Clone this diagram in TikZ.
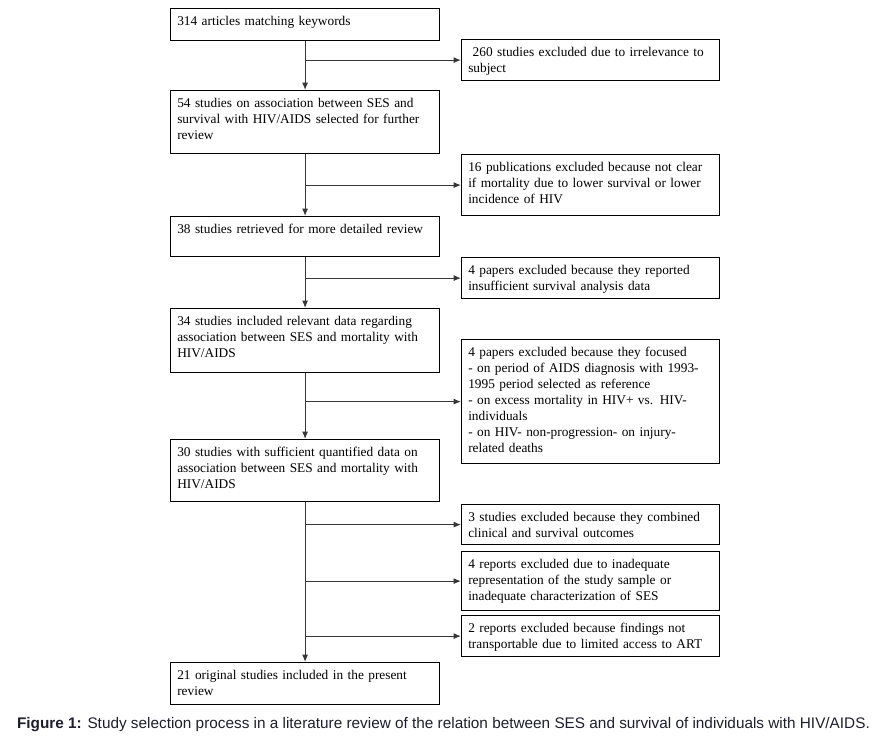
\documentclass[tikz,border=0pt]{standalone}
\usepackage{fontspec}
\setmainfont{Liberation Serif}
\newfontfamily\capfont{Liberation Sans}
\usetikzlibrary{arrows.meta}
\definecolor{captext}{RGB}{30,30,45}
\definecolor{linegray}{RGB}{55,55,55}
\tikzset{
    lbox/.style={draw,line width=0.9pt,anchor=north west,align=left,
        text width=191.75pt,inner xsep=5pt,inner ysep=4pt,
        text height=8.5pt,text depth=#1,font=\fontsize{10pt}{12pt}\selectfont},
    rbox/.style={lbox=#1,text width=183.5pt},
    flow/.style={draw=linegray,line width=0.8pt,-{Latex[length=5.5pt,width=4.5pt]}}
}
\begin{document}
\begin{tikzpicture}[x=0.75pt,y=-0.75pt]
    \useasboundingbox (0,0) rectangle (874,742);
    % main column
    \node[lbox=7.5pt]  (b1) at (170,8)   {314 articles matching keywords};
    \node[lbox=30.75pt](b2) at (170,90)  {54 studies on association between SES and\\
        survival with HIV/AIDS selected for further\\ review};
    \node[lbox=13.5pt] (b3) at (170,216) {38 studies retrieved for more detailed review};
    \node[lbox=31.5pt] (b4) at (170,308) {34 studies included relevant data regarding\\
        association between SES and mortality with\\ HIV/AIDS};
    \node[lbox=30pt]   (b5) at (170,439) {30 studies with sufficient quantified data on\\
        association between SES and mortality with\\ HIV/AIDS};
    \node[lbox=15pt]   (b6) at (170,662) {21 original studies included in the present\\ review};
    % exclusions
    \node[rbox=14.25pt](x1) at (461,39)  {\ 260 studies excluded due to irrelevance to\\ subject};
    \node[rbox=29.25pt](x2) at (461,154) {16 publications excluded because not clear\\
        if mortality due to lower survival or lower\\ incidence of HIV};
    \node[rbox=14.25pt](x3) at (461,257) {4 papers excluded because they reported\\
        insufficient survival analysis data};
    \node[rbox=76.5pt] (x4) at (461,339) {4 papers excluded because they focused\\
        - on period of AIDS diagnosis with 1993-\\ 1995 period selected as reference\\
        - on excess mortality in HIV+ vs. HIV-\\ individuals\\
        - on HIV- non-progression- on injury-\\ related deaths};
    \node[rbox=13.5pt] (x5) at (461,504) {3 studies excluded because they combined\\
        clinical and survival outcomes};
    \node[rbox=27.75pt](x6) at (461,551) {4 reports excluded due to inadequate\\
        representation of the study sample or\\ inadequate characterization of SES};
    \node[rbox=14.25pt](x7) at (461,615) {2 reports excluded because findings not\\
        transportable due to limited access to ART};
    % arrows
    \foreach \a/\b in {b1/b2,b2/b3,b3/b4,b4/b5,b5/b6}{
        \draw[flow] (\a.south) -- (\b.north);
    }
    \foreach \a/\b in {b1/x1,b2/x2,b3/x3,b4/x4,b5/x5,b5/x6,b5/x7}{
        \draw[flow] (\a.south |- \b.west) -- (\b.west);
    }
    \node[font=\capfont\fontsize{11.5pt}{13pt}\selectfont,text=captext] (cap) at (443.5,725)
        {\textbf{Figure 1:} Study selection process in a literature review of the relation between SES and survival of individuals with HIV/AIDS.};
\end{tikzpicture}
\end{document}
